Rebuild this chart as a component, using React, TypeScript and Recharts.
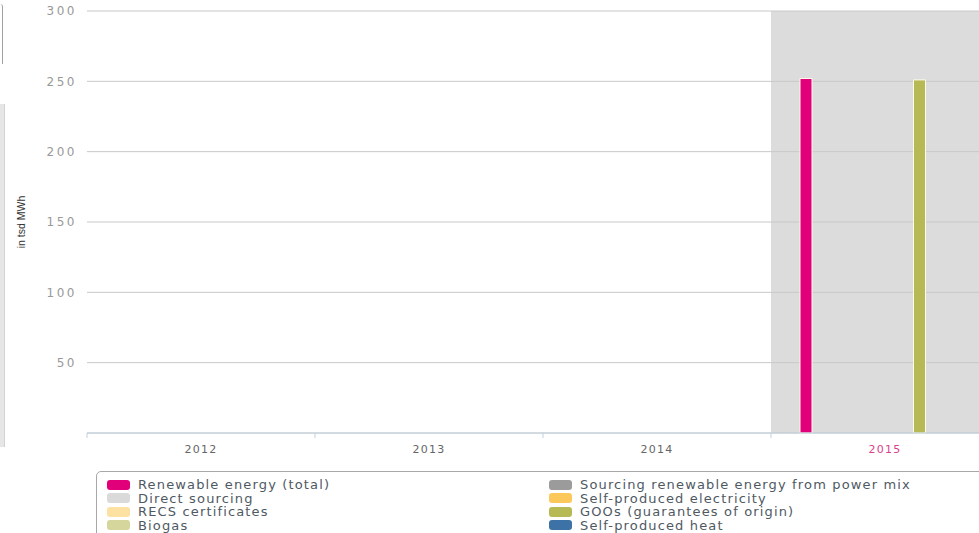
import { Bar, BarChart, CartesianGrid, ReferenceArea, XAxis, YAxis } from "recharts";

const years = ["2012", "2013", "2014", "2015"];

const renewableTotal = [null, null, null, 252];
const powerMix = [null, null, null, null];
const directSourcing = [null, null, null, null];
const selfElectricity = [null, null, null, null];
const recsCertificates = [null, null, null, null];
const goos = [null, null, null, 251];
const biogas = [null, null, null, null];
const selfHeat = [null, null, null, null];

const yTicks = [50, 100, 150, 200, 250, 300];
const highlightYear = "2015";

// legend is laid out row by row, two columns, same as the series order
const seriesList = [
  { key: "renewableTotal", name: "Renewable energy (total)", color: "#e2007a", values: renewableTotal },
  { key: "powerMix", name: "Sourcing renewable energy from power mix", color: "#9b9b9b", values: powerMix },
  { key: "directSourcing", name: "Direct sourcing", color: "#dadada", values: directSourcing },
  { key: "selfElectricity", name: "Self-produced electricity", color: "#fcc85c", values: selfElectricity },
  { key: "recs", name: "RECS certificates", color: "#fde1a2", values: recsCertificates },
  { key: "goos", name: "GOOs (guarantees of origin)", color: "#b6b954", values: goos },
  { key: "biogas", name: "Biogas", color: "#d4d69c", values: biogas },
  { key: "selfHeat", name: "Self-produced heat", color: "#3c72a6", values: selfHeat },
];

const chartData = years.map((year, i) => {
  const row: Record<string, string | number | null> = { year };
  seriesList.forEach((s) => {
    row[s.key] = s.values[i];
  });
  return row;
});

function YearTick({ x, y, payload }: any) {
  const half = payload?.offset ?? 114;
  const active = payload.value === highlightYear;
  return (
    <g>
      <line x1={x - half} x2={x - half} y1={y} y2={y + 5} stroke="#c0d0e0" />
      <text
        x={x}
        y={y + 20}
        textAnchor="middle"
        fontFamily="DejaVu Sans"
        fontSize={11}
        letterSpacing={1.3}
        fill={active ? "#d9428c" : "#666666"}
      >
        {payload.value}
      </text>
    </g>
  );
}

function LegendBox() {
  return (
    <div
      style={{
        position: "absolute",
        left: 96,
        top: 471,
        width: 920,
        height: 90,
        border: "1px solid #a8a8a8",
        borderRadius: 5,
        boxSizing: "border-box",
        background: "#fff",
      }}
    >
      {seriesList.map((s, i) => {
        const col = i % 2;
        const row = Math.floor(i / 2);
        const left = col === 0 ? 10 : 452;
        const top = 6 + row * 13.5;
        return (
          <div
            key={s.key}
            style={{
              position: "absolute",
              left,
              top,
              height: 13.5,
              display: "flex",
              alignItems: "center",
              whiteSpace: "nowrap",
            }}
          >
            <span
              style={{
                display: "inline-block",
                width: 23,
                height: 10,
                borderRadius: 3,
                background: s.color,
                marginRight: 8,
              }}
            />
            <span
              style={{
                fontFamily: "DejaVu Sans",
                fontSize: 13,
                letterSpacing: 1.15,
                color: "#4f5963",
                lineHeight: "13.5px",
              }}
            >
              {s.name}
            </span>
          </div>
        );
      })}
    </div>
  );
}

export default function App() {
  return (
    <div
      style={{
        position: "fixed",
        left: 0,
        top: 0,
        width: 979,
        height: 533,
        overflow: "hidden",
        background: "#ffffff",
      }}
    >
      <div
        style={{
          position: "absolute",
          left: 0,
          top: 4,
          width: 2,
          height: 60,
          borderRight: "1px solid #a0a0a0",
          borderTopRightRadius: 4,
        }}
      />
      <div
        style={{
          position: "absolute",
          left: 0,
          top: 104,
          width: 4,
          height: 343,
          background: "#e6e6e6",
          borderRight: "1px solid #d2d2d2",
        }}
      />
      <div style={{ position: "absolute", left: 0, top: 0 }}>
        <BarChart
          width={1000}
          height={470}
          data={chartData}
          margin={{ top: 11, right: 1, left: 0, bottom: 0 }}
          barSize={12}
          barGap={10.7}
        >
          <ReferenceArea
            x1={highlightYear}
            x2={highlightYear}
            fill="#dcdcdc"
            fillOpacity={1}
            stroke="none"
            ifOverflow="visible"
            zIndex={-200}
          />
          <CartesianGrid vertical={false} stroke="#c8c8c8" />
          <XAxis
            dataKey="year"
            height={37}
            tickSize={0}
            tickMargin={0}
            tickLine={false}
            axisLine={{ stroke: "#c0d0e0" }}
            tick={<YearTick />}
            interval={0}
          />
          <YAxis
            width={87}
            domain={[0, 300]}
            ticks={yTicks}
            axisLine={false}
            tickLine={false}
            tickSize={0}
            tickMargin={10}
            tick={{ fill: "#999999", fontSize: 12, fontFamily: "DejaVu Sans", letterSpacing: 2.5 }}
            label={{
              value: "in tsd MWh",
              angle: -90,
              position: "insideLeft",
              offset: 21,
              style: { fill: "#333333", fontSize: 10.5, fontFamily: "Liberation Sans", textAnchor: "middle" },
            }}
          />
          {seriesList.map((s) => (
            <Bar
              key={s.key}
              dataKey={s.key}
              name={s.name}
              fill={s.color}
              stroke="#fbfbe8"
              strokeWidth={1}
              isAnimationActive={false}
            />
          ))}
        </BarChart>
      </div>
      <LegendBox />
    </div>
  );
}
